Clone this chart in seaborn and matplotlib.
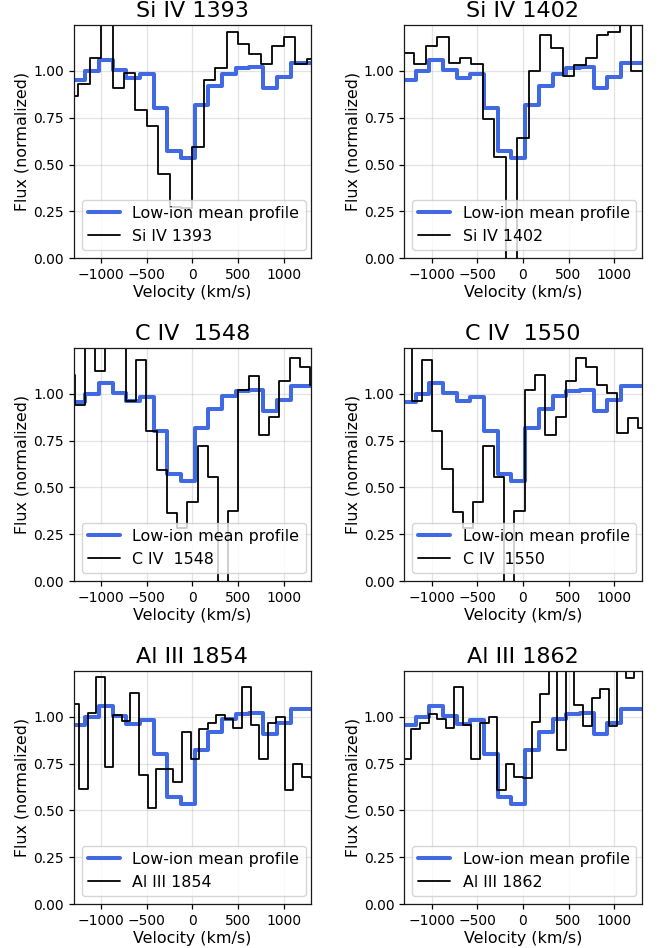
import numpy as np
import pandas as pd
import matplotlib
matplotlib.use("Agg")
import matplotlib.pyplot as plt
import seaborn as sns

# ---- Low-ion mean profile (bin centres in km/s) ----
mean_vel = [-1250, -1100, -950, -800, -650, -500, -350, -200, -50, 100, 250,
            400, 550, 700, 850, 1000, 1150, 1300]
mean_flux = [0.954, 1.000, 1.057, 1.004, 0.962, 0.982, 0.800, 0.570, 0.536,
             0.820, 0.920, 0.986, 1.016, 1.021, 0.909, 0.968, 1.040, 1.040]

# ---- High-ion transitions (pixel centres in km/s, normalized flux) ----
si1393_vel = [-1312.5, -1187.5, -1062.5, -937.5, -812.5, -687.5, -562.5, -437.5,
              -312.5, -187.5, -62.5, 62.5, 187.5, 312.5, 437.5, 562.5, 687.5,
              812.5, 937.5, 1062.5, 1187.5, 1312.5]
si1393_flux = [0.866, 0.932, 1.070, 1.300, 0.909, 0.989, 0.793, 0.707, 0.450,
               0.275, 0.270, 0.593, 0.950, 1.013, 1.209, 1.141, 1.089, 1.039,
               1.134, 1.179, 1.039, 1.065]

si1402_vel = [-1250, -1125, -1000, -875, -750, -625, -500, -375, -250, -125, 0,
              125, 250, 375, 500, 625, 750, 875, 1000, 1125, 1250]
si1402_flux = [1.093, 1.039, 1.134, 1.179, 1.043, 1.070, 1.039, 0.745, 0.539,
               -0.050, 0.641, 1.000, 1.190, 1.120, 0.973, 1.030, 1.070, 1.190,
               1.210, 1.300, 1.000]

c4_1548_vel = [-1344, -1232, -1120, -1008, -896, -784, -672, -560, -448, -336,
               -224, -112, 0, 112, 224, 336, 448, 560, 672, 784, 896, 1008,
               1120, 1232, 1344]
c4_1548_flux = [1.098, 0.941, 1.300, 1.120, 1.300, 1.300, 0.961, 1.179, 0.800,
                0.595, 0.366, 0.285, 0.420, 0.720, 0.557, -0.050, 0.375, 1.018,
                1.095, 0.782, 0.875, 1.071, 1.193, 1.146, 1.048]

c4_1550_vel = [-1276, -1163, -1051, -938, -825, -712, -600, -487, -375, -262,
               -149, -36, 77, 189, 302, 415, 527, 640, 753, 866, 978, 1091,
               1204, 1317]
c4_1550_flux = [1.300, 0.964, 1.182, 0.800, 0.598, 0.370, 0.282, 0.420, 0.720,
                0.557, -0.050, 0.375, 1.018, 1.098, 0.780, 0.875, 1.071, 1.193,
                1.146, 1.048, 1.005, 0.790, 0.871, 0.820]

al3_1854_vel = [-1288, -1194, -1100, -1006, -912, -819, -725, -631, -537, -443,
                -349, -255, -161, -67, 27, 121, 214, 308, 402, 496, 590, 684,
                778, 872, 966, 1059, 1153, 1247, 1341]
al3_1854_flux = [1.066, 0.614, 1.018, 1.213, 0.730, 1.007, 0.977, 1.125, 0.690,
                 0.513, 0.720, 0.720, 0.650, 0.918, 0.775, 0.936, 0.968, 1.009,
                 0.989, 0.941, 1.160, 0.954, 0.775, 0.968, 1.000, 0.607, 0.750,
                 0.680, 0.673]

al3_1862_vel = [-1267, -1173, -1079, -985, -891, -798, -704, -610, -516, -422,
                -328, -234, -140, -46, 48, 142, 235, 329, 423, 517, 611, 705,
                799, 893, 987, 1081, 1175, 1269]
al3_1862_flux = [0.775, 0.936, 0.968, 1.013, 0.989, 0.941, 1.160, 0.954, 0.775,
                 0.968, 1.000, 0.607, 0.750, 0.680, 0.673, 0.971, 1.123, 1.300,
                 0.820, 1.300, 1.063, 0.950, 1.102, 1.150, 0.950, 1.300, 1.209,
                 1.300]

line_names = ["Si IV 1393", "Si IV 1402", "C IV  1548", "C IV  1550",
              "Al III 1854", "Al III 1862"]
line_vels = [si1393_vel, si1402_vel, c4_1548_vel, c4_1550_vel,
             al3_1854_vel, al3_1862_vel]
line_fluxes = [si1393_flux, si1402_flux, c4_1548_flux, c4_1550_flux,
               al3_1854_flux, al3_1862_flux]

MEAN_LABEL = "Low-ion mean profile"
MEAN_COLOR = "#4169E1"

sns.set_style("ticks")
plt.rcParams.update({
    "font.family": ["DejaVu Sans"],
    "text.color": "black",
    "axes.labelcolor": "black",
    "axes.titlesize": 16,
    "axes.labelsize": 11.4,
    "axes.labelpad": 2.5,
    "xtick.labelsize": 10,
    "ytick.labelsize": 10,
    "legend.fontsize": 11.4,
    "axes.edgecolor": "#1a1a1a",
    "axes.linewidth": 0.9,
    "xtick.major.width": 0.9,
    "ytick.major.width": 0.9,
    "xtick.major.size": 3.5,
    "ytick.major.size": 3.5,
    "xtick.color": "black",
    "ytick.color": "black",
    "axes.unicode_minus": True,
})


def to_stairs(centres, values):
    """Bin edges (half a bin beyond the outer centres) with a repeated last value."""
    c = np.asarray(centres, dtype=float)
    v = list(values)
    mids = (c[1:] + c[:-1]) / 2
    edges = np.concatenate([[c[0] - (c[1] - c[0]) / 2], mids,
                            [c[-1] + (c[-1] - c[-2]) / 2]])
    return pd.DataFrame({"velocity": edges, "flux": v + [v[-1]]})


mean_df = to_stairs(mean_vel, mean_flux)

fig, axes = plt.subplots(3, 2, figsize=(6.58, 9.48), dpi=100)
fig.subplots_adjust(left=0.112, right=0.975, bottom=0.0464, top=0.9736,
                    wspace=0.392, hspace=0.3855)

for ax, name, vel, flux in zip(axes.flat, line_names, line_vels, line_fluxes):
    sns.lineplot(data=mean_df, x="velocity", y="flux", ax=ax,
                 drawstyle="steps-post", color=MEAN_COLOR, lw=2.9,
                 estimator=None, sort=False, label=MEAN_LABEL, legend=False)
    sns.lineplot(data=to_stairs(vel, flux), x="velocity", y="flux", ax=ax,
                 drawstyle="steps-post", color="black", lw=1.3,
                 estimator=None, sort=False, label=name, legend=False)
    ax.set_xlim(-1300, 1300)
    ax.set_ylim(0, 1.245)
    ax.set_xticks([-1000, -500, 0, 500, 1000])
    ax.set_yticks([0, 0.25, 0.5, 0.75, 1.0])
    ax.yaxis.set_major_formatter(matplotlib.ticker.FormatStrFormatter("%.2f"))
    ax.grid(True, color="#b0b0b0", alpha=0.35, lw=0.9)
    ax.set_title(name)
    ax.set_xlabel("Velocity (km/s)")
    ax.set_ylabel("Flux (normalized)")
    ax.legend(loc="lower left", framealpha=0.8)

fig.savefig("out.png", dpi=100)
